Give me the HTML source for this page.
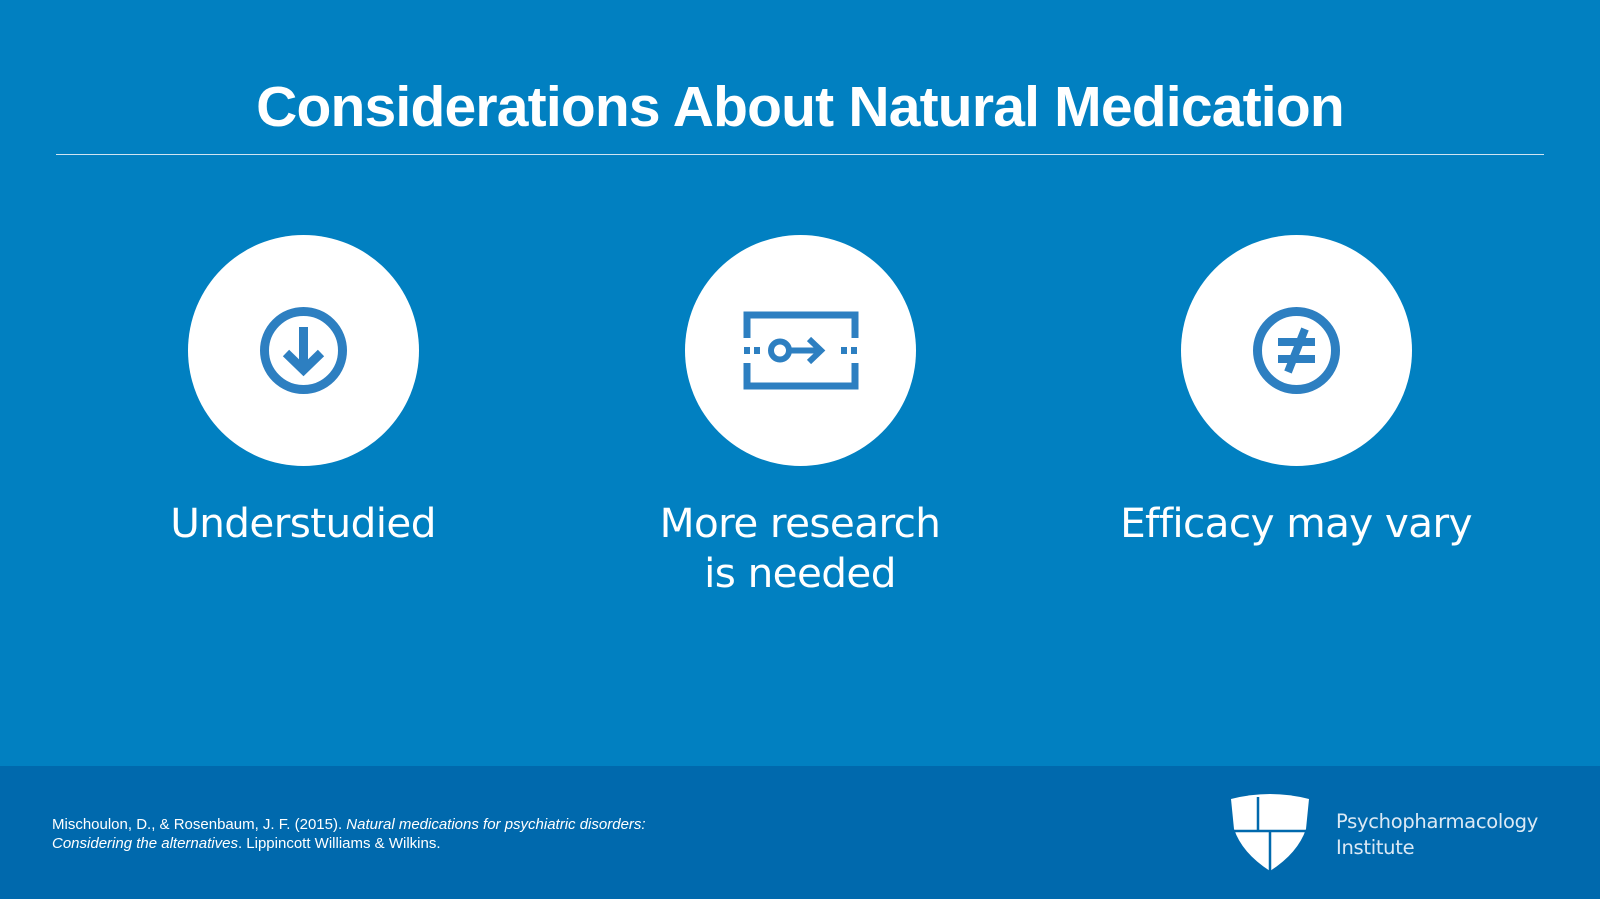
<!DOCTYPE html>
<html><head><meta charset="utf-8"><style>
body{margin:0;width:1600px;height:899px;overflow:hidden;background:#0180c1;font-family:"Liberation Sans",sans-serif;position:relative}
.t{position:absolute;left:0;width:1600px;top:74px;text-align:center;color:#fff;font-size:57px;font-weight:bold;letter-spacing:-0.8px}
.line{position:absolute;left:56px;width:1488px;top:154px;height:1px;background:#cfe4f2}
.c{position:absolute;width:231px;height:231px;border-radius:50%;background:#fff;top:235px}
.c svg{position:absolute;left:0;top:0}
.lab{position:absolute;width:500px;text-align:center;color:#fff;font-size:40.5px;line-height:50px;top:498px;font-family:"DejaVu Sans","Liberation Sans",sans-serif;letter-spacing:-0.6px}
.foot{position:absolute;left:0;top:766px;width:1600px;height:133px;background:#0069ad}
.cit{position:absolute;left:52px;top:815px;color:#fff;font-size:15px;line-height:19px}
.logo{position:absolute;left:1336px;top:809px;color:#dbe9f5;font-size:19.5px;line-height:26px;font-family:"DejaVu Sans",sans-serif;letter-spacing:-0.3px}
</style></head><body>
<div class="t">Considerations About Natural Medication</div>
<div class="line"></div>
<div class="c" style="left:188px"><svg width="231" height="231"><circle cx="115.5" cy="115.5" r="39" fill="none" stroke="#2d7fc1" stroke-width="9"/><path d="M115.5 92 V134 M98 118 L115.5 135 L133 118" fill="none" stroke="#2d7fc1" stroke-width="9"/></svg></div>
<div class="c" style="left:685px"><svg width="231" height="231"><path d="M62 103 V80 H170 V103 M62 128 V151 H170 V128" fill="none" stroke="#2d7fc1" stroke-width="7"/><rect x="59" y="112" width="6" height="7" fill="#2d7fc1"/><rect x="69" y="112" width="6" height="7" fill="#2d7fc1"/><circle cx="95" cy="115.5" r="9" fill="none" stroke="#2d7fc1" stroke-width="6"/><path d="M106 115.5 H137 M124 104 L136 115.5 L124 127" fill="none" stroke="#2d7fc1" stroke-width="6"/><rect x="156" y="112" width="6" height="7" fill="#2d7fc1"/><rect x="166" y="112" width="6" height="7" fill="#2d7fc1"/></svg></div>
<div class="c" style="left:1181px"><svg width="231" height="231"><circle cx="115.5" cy="115.5" r="39" fill="none" stroke="#2d7fc1" stroke-width="9"/><path d="M97 107 H134 M97 124 H134 M124 94 L107 137" fill="none" stroke="#2d7fc1" stroke-width="8"/></svg></div>
<div class="lab" style="left:53px">Understudied</div>
<div class="lab" style="left:550px">More research<br>is needed</div>
<div class="lab" style="left:1046px">Efficacy may vary</div>
<div class="foot"></div>
<div class="cit">Mischoulon, D., &amp; Rosenbaum, J. F. (2015). <i>Natural medications for psychiatric disorders:<br>Considering the alternatives</i>. Lippincott Williams &amp; Wilkins.</div>
<svg style="position:absolute;left:1228px;top:793px" width="84" height="80"><path d="M3 6 Q42 -4 81 6 L78 36 Q70 60 42 78 Q14 60 6 36 Z" fill="#fff"/><path d="M30 4 V38 M5 38 H79 M42 38 V78" stroke="#0069ad" stroke-width="2.5" fill="none"/></svg>
<div class="logo">Psychopharmacology<br>Institute</div>
</body></html>
